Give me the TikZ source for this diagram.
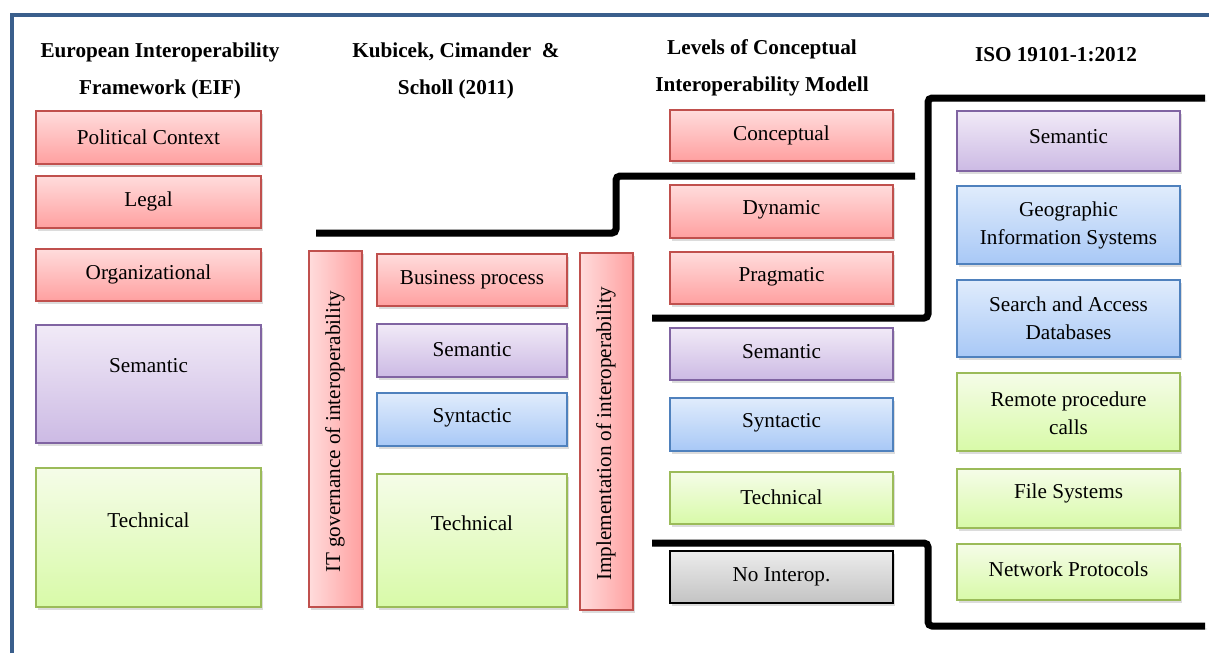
\documentclass[tikz,border=0pt]{standalone}
\usepackage{fontspec}
\setmainfont{Liberation Serif}
\usepackage{xcolor}
\usetikzlibrary{calc,shadows}
\definecolor{framebl}{RGB}{58,95,140}
\definecolor{redtop}{RGB}{255,220,220}
\definecolor{redbot}{RGB}{255,160,160}
\definecolor{redln}{RGB}{192,80,77}
\definecolor{purtop}{RGB}{241,234,247}
\definecolor{purbot}{RGB}{204,186,228}
\definecolor{purln}{RGB}{128,100,162}
\definecolor{blutop}{RGB}{224,236,252}
\definecolor{blubot}{RGB}{168,200,246}
\definecolor{bluln}{RGB}{79,129,189}
\definecolor{grntop}{RGB}{245,252,232}
\definecolor{grnbot}{RGB}{216,250,168}
\definecolor{grnln}{RGB}{155,187,89}
\definecolor{grytop}{RGB}{236,236,236}
\definecolor{grybot}{RGB}{195,195,195}
\pgfkeys{tikz/lvlbase/.style={line width=1pt,drop shadow={opacity=0.28,shadow xshift=1pt,shadow yshift=-1.5pt}}}
\pgfkeys{tikz/redbox/.style={lvlbase,draw=redln,top color=redtop,bottom color=redbot}}
\pgfkeys{tikz/purbox/.style={lvlbase,draw=purln,top color=purtop,bottom color=purbot}}
\pgfkeys{tikz/blubox/.style={lvlbase,draw=bluln,top color=blutop,bottom color=blubot}}
\pgfkeys{tikz/grnbox/.style={lvlbase,draw=grnln,top color=grntop,bottom color=grnbot}}
\pgfkeys{tikz/grybox/.style={lvlbase,draw=black,top color=grytop,bottom color=grybot}}
\pgfkeys{tikz/redbar/.style={lvlbase,draw=redln,left color=redtop,right color=redbot}}
\pgfkeys{tikz/boxtext/.style={font=\fontsize{10.6}{14}\selectfont,align=center,inner sep=0pt,yshift=-1pt}}
\pgfkeys{tikz/headtext/.style={font=\fontsize{10.6}{18.5}\selectfont\bfseries,align=center,inner sep=0pt}}
\pgfkeys{tikz/stepline/.style={line width=3.5pt,rounded corners=2pt,
    preaction={draw=black,opacity=0.18,transform canvas={shift={(1pt,-1.5pt)}}}}}
% box with its label: style, name, x1, y1, x2, y2, label y, label
\newcommand*\lvlbox[8]{
    \draw[#1] (#3,#4) rectangle (#5,#6);
    \node[boxtext] (#2) at ({(#3+#5)/2},#7) {#8};
}

\begin{document}
\begin{tikzpicture}[x=0.5pt,y=-0.5pt]
    \useasboundingbox (0,0) rectangle (1209,653);
    \draw[framebl,line width=2.2pt] (12,653) -- (12,15) -- (1209,15);
    % headers
    \node[headtext] (eifhead) at (160,71) {European Interoperability\\Framework (EIF)};
    \node[headtext] (kubhead) at (456,71) {Kubicek, Cimander \ \&\\Scholl (2011)};
    \node[headtext] (lcimhead) at (762,68) {Levels of Conceptual\\Interoperability Modell};
    \node[headtext] (isohead) at (1056,55) {ISO 19101-1:2012};
    % EIF
    \lvlbox{redbox}{eifpol}{36}{111}{261}{164}{135}{Political Context}
    \lvlbox{redbox}{eifleg}{36}{176}{261}{228}{199}{Legal}
    \lvlbox{redbox}{eiforg}{36}{249}{261}{301}{272}{Organizational}
    \lvlbox{purbox}{eifsem}{36}{325}{261}{443}{364}{Semantic}
    \lvlbox{grnbox}{eiftec}{36}{468}{261}{607}{518}{Technical}
    % Kubicek et al.
    \draw[redbar] (309,251) rectangle (362,607);
    \node[boxtext,rotate=90] (kubgov) at (335,430) {IT governance of interoperability};
    \lvlbox{redbox}{kubbus}{377}{254}{567}{306}{278}{Business process}
    \lvlbox{purbox}{kubsem}{377}{324}{567}{377}{348}{Semantic}
    \lvlbox{blubox}{kubsyn}{377}{393}{567}{446}{416}{Syntactic}
    \lvlbox{grnbox}{kubtec}{377}{474}{567}{607}{521}{Technical}
    \draw[redbar] (580,253) rectangle (633,610);
    \node[boxtext,rotate=90] (kubimp) at (606,432) {Implementation of interoperability};
    % LCIM
    \lvlbox{redbox}{lcimcon}{670}{110}{893}{161}{133}{Conceptual}
    \lvlbox{redbox}{lcimdyn}{670}{185}{893}{238}{208}{Dynamic}
    \lvlbox{redbox}{lcimpra}{670}{252}{893}{304}{275}{Pragmatic}
    \lvlbox{purbox}{lcimsem}{670}{328}{893}{380}{350}{Semantic}
    \lvlbox{blubox}{lcimsyn}{670}{398}{893}{451}{421}{Syntactic}
    \lvlbox{grnbox}{lcimtec}{670}{472}{893}{524}{495}{Technical}
    \lvlbox{grybox}{lcimnon}{670}{551}{893}{603}{575}{No Interop.}
    % ISO
    \lvlbox{purbox}{isosem}{957}{111}{1180}{171}{135}{Semantic}
    \lvlbox{blubox}{isogis}{957}{186}{1180}{264}{223}{Geographic\\Information Systems}
    \lvlbox{blubox}{isodb}{957}{280}{1180}{357}{316}{Search and Access\\Databases}
    \lvlbox{grnbox}{isorpc}{957}{373}{1180}{451}{411}{Remote procedure\\calls}
    \lvlbox{grnbox}{isofs}{957}{469}{1180}{528}{491}{File Systems}
    \lvlbox{grnbox}{isonet}{957}{544}{1180}{600}{567}{Network Protocols}
    % level borders
    \draw[stepline] (316,233) -- (616,233) -- (616,176) -- (915,176);
    \draw[stepline] (652,318) -- (928,318) -- (928,98) -- (1205,98);
    \draw[stepline] (652,543) -- (928,543) -- (928,626) -- (1205,626);
\end{tikzpicture}
\end{document}
